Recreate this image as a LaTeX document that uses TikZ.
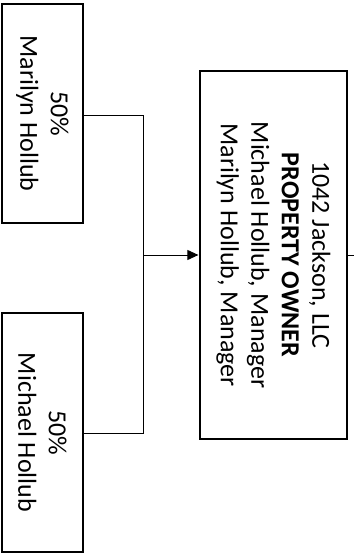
\documentclass[tikz,border=0pt]{standalone}
\usepackage{fontspec}
\setmainfont{Carlito}
\usetikzlibrary{arrows.meta}
\begin{document}
\begin{tikzpicture}[x=1pt,y=-1pt,
  box/.style={draw, line width=1.6pt, inner sep=0pt},
  label/.style={rotate=-90, align=center, font=\fontsize{26}{30.5}\selectfont, inner sep=0pt},
  conn/.style={line width=0.9pt},
  tip/.style={-{Triangle[length=11pt,width=10pt]}}]
\useasboundingbox (0,0) rectangle (354,553);
\node[box, minimum width=81pt, minimum height=219pt] (mar) at (42.5,113.5) {};
\node[box, minimum width=81pt, minimum height=239pt] (mic) at (42.5,432.5) {};
\node[box, minimum width=147pt, minimum height=368pt] (prop) at (273.5,255) {};
\node[label] (martext) at (mar.center) {50\%\\Marilyn Hollub};
\node[label] (mictext) at (mic.center) {50\%\\Michael Hollub};
\node[label] (proptext) at (prop.center) {1042 Jackson, LLC\\\textbf{PROPERTY OWNER}\\Michael Hollub, Manager\\Marilyn Hollub, Manager};
\coordinate (j1) at (143,115);
\coordinate (j2) at (143,433);
\coordinate (jm) at (143,255);
\coordinate (out) at (354,255);
\draw[conn] (mar.east |- j1) -- (j1) -- (j2) -- (mic.east |- j2);
\draw[conn, tip] (jm) -- ([xshift=-0.8pt]prop.west);
\draw[conn] (prop.east) -- (out);
\end{tikzpicture}
\end{document}
